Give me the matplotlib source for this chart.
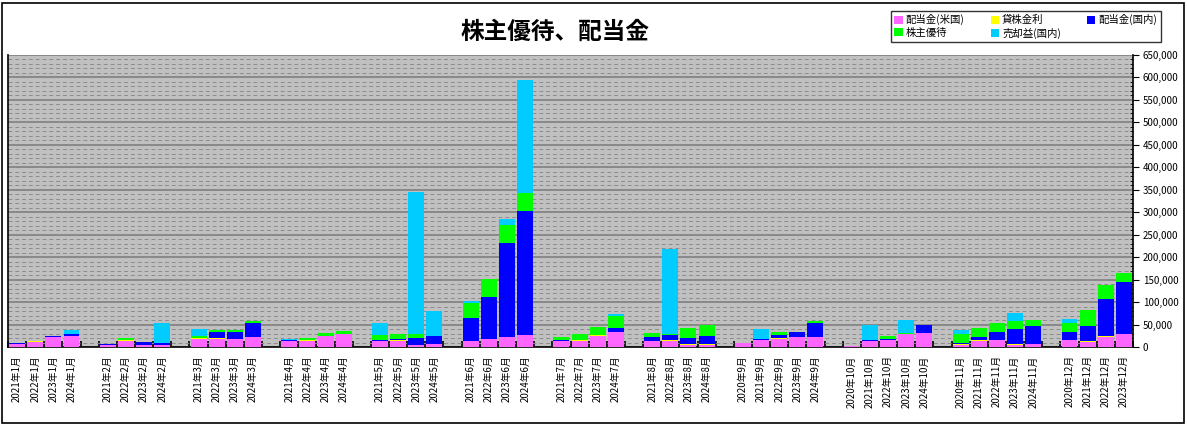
import matplotlib
matplotlib.use('Agg')
from matplotlib import pyplot as plt
from matplotlib.patches import Patch, Rectangle
from matplotlib.ticker import FuncFormatter, MultipleLocator

plt.rcParams['font.family'] = ['Noto Sans CJK JP', 'DejaVu Sans']

# categories ('' = empty slot between month groups)
labels = [
    '2021年1月', '2022年1月', '2023年1月', '2024年1月', '',
    '2021年2月', '2022年2月', '2023年2月', '2024年2月', '',
    '2021年3月', '2022年3月', '2023年3月', '2024年3月', '',
    '2021年4月', '2022年4月', '2023年4月', '2024年4月', '',
    '2021年5月', '2022年5月', '2023年5月', '2024年5月', '',
    '2021年6月', '2022年6月', '2023年6月', '2024年6月', '',
    '2021年7月', '2022年7月', '2023年7月', '2024年7月', '',
    '2021年8月', '2022年8月', '2023年8月', '2024年8月', '',
    '2020年9月', '2021年9月', '2022年9月', '2023年9月', '2024年9月', '',
    '2020年10月', '2021年10月', '2022年10月', '2023年10月', '2024年10月', '',
    '2020年11月', '2021年11月', '2022年11月', '2023年11月', '2024年11月', '',
    '2020年12月', '2021年12月', '2022年12月', '2023年12月',
]

# 配当金(米国)
div_us = [
    6500, 12000, 22000, 24000, 0,
    3500, 13000, 3500, 3500, 0,
    18000, 18000, 17000, 22500, 0,
    13500, 13500, 25500, 30000, 0,
    13500, 13500, 4500, 7500, 0,
    13500, 18000, 22500, 27000, 0,
    13500, 12500, 25500, 33500, 0,
    13500, 13500, 4500, 4500, 0,
    9000, 15500, 18000, 22500, 22500, 0,
    2500, 13500, 15500, 29000, 31000, 0,
    4500, 13500, 15500, 4500, 6500, 0,
    15500, 11000, 22500, 29000,
]
# 貸株金利
lending = [
    0, 1000, 0, 0, 0,
    0, 1500, 0, 2000, 0,
    1000, 2000, 0, 0, 0,
    0, 1500, 0, 0, 0,
    0, 2000, 0, 0, 0,
    0, 0, 0, 0, 0,
    0, 2500, 2000, 0, 0,
    0, 3000, 2000, 2000, 0,
    0, 0, 2000, 0, 0, 0,
    0, 0, 0, 0, 0, 0,
    2000, 2000, 0, 2000, 0, 0,
    0, 2000, 2000, 0,
]
# 配当金(国内)
div_jp = [
    2000, 0, 2000, 5000, 0,
    2500, 1500, 7500, 3000, 0,
    2000, 13500, 16500, 31000, 0,
    2000, 1000, 0, 0, 0,
    2000, 2000, 15500, 17000, 0,
    51500, 94000, 208000, 275000, 0,
    2000, 1000, 0, 9000, 0,
    9000, 10500, 13500, 18000, 0,
    0, 2000, 6500, 11000, 31000, 0,
    0, 2000, 2000, 1000, 18000, 0,
    2000, 6000, 18000, 33500, 40000, 0,
    18000, 33500, 83000, 116000,
]
# 株主優待
yutai = [
    0, 0, 0, 0, 0,
    1500, 3000, 0, 1000, 0,
    3000, 4500, 4500, 4500, 0,
    0, 4500, 5000, 6000, 0,
    10500, 12000, 9000, 0, 0,
    33000, 40000, 40000, 40000, 0,
    6500, 13500, 17000, 27000, 0,
    9000, 2000, 22500, 24500, 0,
    0, 0, 6500, 0, 4500, 0,
    0, 0, 6500, 2000, 0, 0,
    20000, 20000, 20000, 18000, 13500, 0,
    20000, 36000, 31000, 20000,
]
# 売却益(国内)
gain_jp = [
    0, 0, 0, 9000, 0,
    0, 0, 0, 44000, 0,
    16000, 0, 0, 0, 0,
    1500, 0, 0, 0, 0,
    27500, 0, 315000, 56000, 0,
    3500, 0, 15500, 252000, 0,
    0, 0, 0, 4500, 0,
    0, 190000, 0, 0, 0,
    0, 22500, 0, 0, 0, 0,
    0, 33500, 0, 27500, 0, 0,
    9000, 0, 0, 18000, 0, 0,
    9000, 0, 0, 0,
]

series = [
    ('配当金(米国)', div_us, '#FF66FF'),
    ('貸株金利', lending, '#FFFF00'),
    ('配当金(国内)', div_jp, '#0000FF'),
    ('株主優待', yutai, '#00FF00'),
    ('売却益(国内)', gain_jp, '#00CCFF'),
]

W, H = 1187, 425
fig = plt.figure(figsize=(W / 100, H / 100), dpi=100)
ax = fig.add_axes([8 / W, 1 - 347 / H, 1125 / W, 292 / H])
ax.set_facecolor('#C0C0C0')

x = list(range(len(labels)))
bottom = [0] * len(labels)
for name, vals, col in series:
    ax.bar(x, vals, width=0.88, bottom=bottom, color=col, linewidth=0, zorder=3)
    bottom = [b + v for b, v in zip(bottom, vals)]

ax.set_xlim(-0.5, len(labels) - 0.5)
ax.set_ylim(0, 650000)

# gridlines
ax.yaxis.set_major_locator(MultipleLocator(50000))
ax.yaxis.set_minor_locator(MultipleLocator(10000))
ax.grid(axis='y', which='major', color='#808080', linewidth=1.2, zorder=1)
ax.grid(axis='y', which='minor', color='#8c8c8c', linewidth=0.7,
        linestyle=(0, (4, 3)), zorder=1)

# right-hand y axis
ax.yaxis.tick_right()
ax.yaxis.set_major_formatter(FuncFormatter(lambda v, p: f'{int(v):,}'))
ax.tick_params(axis='y', which='major', labelsize=7, length=4, direction='out', pad=3)
ax.tick_params(axis='y', which='minor', length=2, direction='in')

# x axis
ax.set_xticks(x)
ax.set_xticklabels(labels, rotation=90, fontsize=7)
ax.tick_params(axis='x', which='major', length=0, pad=6)
ax.set_xticks([i - 0.5 for i in range(len(labels) + 1)], minor=True)
ax.tick_params(axis='x', which='minor', length=4, direction='in', width=1.2)

for s in ['left', 'bottom', 'right']:
    ax.spines[s].set_color('black')
    ax.spines[s].set_linewidth(1.2)
ax.spines['top'].set_visible(False)

fig.text(555 / W, 1 - 32 / H, '株主優待、配当金', ha='center', va='center',
         fontsize=17, fontweight='bold')

handles = [Patch(facecolor=c, edgecolor='none', label=n) for n, v, c in series]
order = [0, 3, 1, 4, 2]
leg = fig.legend([handles[i] for i in order], [series[i][0] for i in order],
                 loc='upper left', bbox_to_anchor=(886 / W, 1 - 6 / H), ncol=3,
                 fontsize=7.5, frameon=True, fancybox=False, borderpad=0.3,
                 handlelength=0.8, handleheight=0.8, handletextpad=0.3,
                 columnspacing=2.5, labelspacing=0.2)
leg.get_frame().set_edgecolor('black')
leg.get_frame().set_linewidth(1)

# outer frame
fig.patches.append(Rectangle((2 / W, 2 / H), 1 - 5 / W, 1 - 5 / H,
                             transform=fig.transFigure, fill=False,
                             edgecolor='black', linewidth=1.2))

fig.savefig('out.png', dpi=100)
